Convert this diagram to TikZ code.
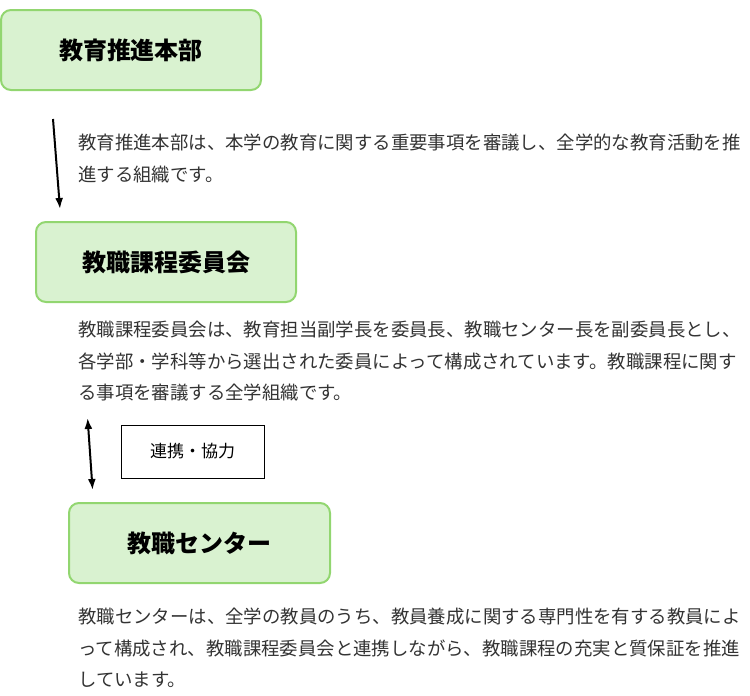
\documentclass[tikz,border=0pt]{standalone}
\usepackage{fontspec}
\setmainfont{Noto Sans CJK JP}
\usetikzlibrary{arrows.meta}
\tikzset{>={Latex[width=8pt,length=11pt]}}
\definecolor{boxfill}{RGB}{217,242,208}
\definecolor{boxline}{RGB}{146,214,112}
\definecolor{txtgray}{RGB}{51,51,51}

\begin{document}
\begin{tikzpicture}[x=1pt,y=-1pt,
  orgbox/.style={draw=boxline, line width=2pt, fill=boxfill, rounded corners=10pt,
    minimum width=260pt, minimum height=80pt, inner sep=0pt,
    font=\fontsize{24}{28}\selectfont\bfseries},
  note/.style={anchor=north west, inner sep=0pt, align=left, text=txtgray,
    font=\fontsize{18.4}{31.5}\selectfont},
  tagbox/.style={draw, line width=0.8pt, minimum width=143pt, minimum height=53pt,
    inner sep=0pt, font=\fontsize{17}{20}\selectfont}]

  \useasboundingbox (0,0) rectangle (750,696);

  %% boxes
  \node[orgbox] (hq) at (131,50) {教育推進本部};
  \node[orgbox] (comm) at (166,262) {教職課程委員会};
  \node[orgbox, minimum width=261pt] (center) at (199.5,543) {教職センター};
  \node[tagbox] (coop) at (192.5,451.5) {連携・協力};

  %% notes
  \node[note] (hqtxt) at (78,134) {教育推進本部は、本学の教育に関する重要事項を審議し、全学的な教育活動を推\\進する組織です。};
  \node[note] (commtxt) at (78,321) {教職課程委員会は、教育担当副学長を委員長、教職センター長を副委員長とし、\\各学部・学科等から選出された委員によって構成されています。教職課程に関す\\る事項を審議する全学組織です。};
  \node[note] (centertxt) at (78,608) {教職センターは、全学の教員のうち、教員養成に関する専門性を有する教員によ\\って構成され、教職課程委員会と連携しながら、教職課程の充実と質保証を推進\\しています。};

  %% arrows
  \draw[->, line width=2pt] ([xshift=-78pt,yshift=-28pt]hq.south) -- ([xshift=-106pt,yshift=12pt]comm.north);
  \draw[<->, line width=2pt] ([xshift=-33pt,yshift=33.5pt]coop.west) -- ([xshift=-28pt,yshift=-38.5pt]coop.west);

\end{tikzpicture}
\end{document}
